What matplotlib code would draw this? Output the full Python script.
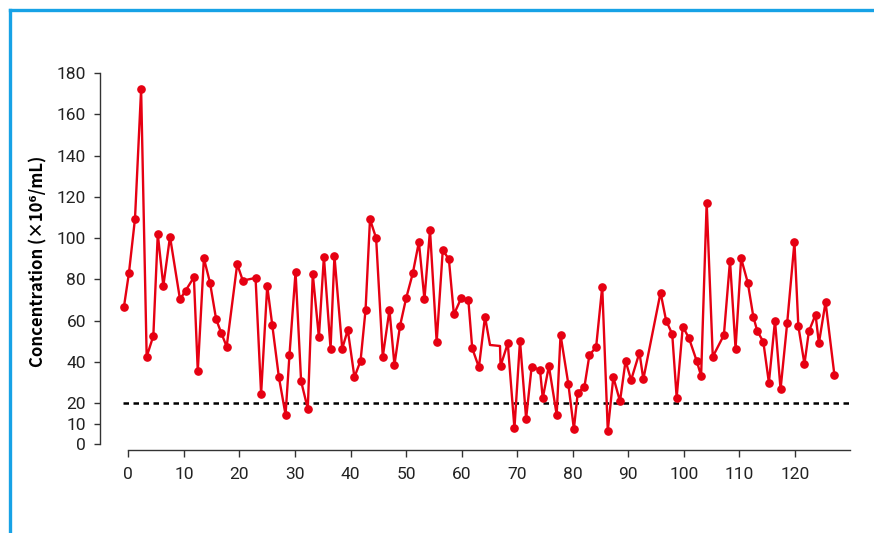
import matplotlib
matplotlib.use('Agg')
import matplotlib.pyplot as plt
from matplotlib.lines import Line2D

plt.rcParams['font.family'] = ['Roboto', 'DejaVu Sans']

# day positions
days = [-0.8, 0.1, 1.2, 2.3, 3.3, 4.5, 5.3, 6.3, 7.5, 9.3, 10.3, 11.8, 12.5, 13.6, 14.7, 15.8, 16.7, 17.7,
        19.6, 20.6, 22.9, 23.9, 25.0, 25.9, 27.1, 28.3, 29.0, 30.1, 31.1, 32.3, 33.2, 34.3, 35.2, 36.4, 37.1, 38.5, 39.5,
        40.7, 41.8, 42.7, 43.5, 44.6, 45.8, 47.0, 47.9, 48.9, 50.0, 51.2, 52.3, 53.3, 54.3, 55.5, 56.6, 57.7, 58.6, 59.9, 61.2,
        61.9, 63.1, 64.2, 65.1, 66.9, 67.0, 68.3, 69.5, 70.5, 71.6, 72.6, 74.1, 74.6, 75.7, 77.1, 77.8, 79.2, 80.2, 80.9, 82.1, 83.0,
        84.2, 85.3, 86.3, 87.3, 88.5, 89.5, 90.5, 92.0, 92.7, 95.8, 96.8, 97.9, 98.7, 99.8, 100.9, 102.3, 103.1, 104.1,
        105.2, 107.2, 108.3, 109.3, 110.3, 111.5, 112.5, 113.2, 114.3, 115.3, 116.4, 117.4, 118.6, 119.9, 120.6, 121.7,
        122.5, 123.7, 124.3, 125.5, 127.1]
conc = [66.5, 82.9, 109.4, 172.2, 42.5, 52.6, 102, 76.8, 100.7, 70.3, 74.5, 81, 35.5, 90.2, 78.4, 60.7, 54.2, 47.4,
        87.4, 79.4, 80.7, 24.5, 76.8, 58, 32.6, 14.4, 43.2, 83.6, 30.6, 17.3, 82.6, 51.9, 91, 46.4, 91.3, 46.4, 55.5,
        32.6, 40.5, 65.2, 109.1, 100, 42.5, 65.2, 38.5, 57.4, 70.8, 82.9, 98.1, 70.3, 103.9, 49.7, 94.2, 89.7, 63, 70.8, 70,
        46.6, 37.4, 61.9, 48.2, 47.7, 38, 49, 7.8, 50.3, 12.5, 37.7, 36.1, 22.4, 38, 14.4, 53.1, 29.3, 7.5, 25.1, 28, 43.4,
        47.1, 76.5, 6.7, 32.6, 20.9, 40.5, 31.2, 44.5, 31.6, 73.6, 60, 53.5, 22.7, 57.1, 51.6, 40.5, 33.2, 117.2,
        42.5, 53, 89, 46.4, 90.2, 78.4, 61.9, 55, 49.7, 29.9, 60, 26.7, 59, 98.1, 57.4, 39, 54.8, 62.9, 49, 69, 33.5]
no_marker = [60, 61]   # two corners drawn without a dot
threshold = 20
yticks = [0, 10, 20, 40, 60, 80, 100, 120, 140, 160, 180]
xticks = list(range(0, 130, 10))

fig = plt.figure(figsize=(8.74, 5.33), dpi=100)
ax = fig.add_axes([100/874, 83/533, 750/874, 377/533])

marks = [i for i in range(len(days)) if i not in no_marker]
ax.plot(days, conc, color='#e60012', lw=1.7, marker='o', markersize=5.2,
        markevery=marks, zorder=3)
ax.plot([-1, 130], [threshold, threshold], color='black', lw=1.8,
        linestyle=(0, (2.2, 1.8)), zorder=2)

ax.set_xlim(-5.1, 129.9)
ax.set_ylim(-2.7, 180)
ax.set_xticks(xticks)
ax.set_yticks(yticks)
ax.spines['top'].set_visible(False)
ax.spines['right'].set_visible(False)
ax.spines['left'].set_bounds(0, 180)
ax.spines['bottom'].set_bounds(0, 129.9)
for s in ['left', 'bottom']:
    ax.spines[s].set_color('#333333')
    ax.spines[s].set_linewidth(1.0)
ax.tick_params(axis='y', direction='out', length=4, width=1, color='#333333',
               labelsize=12.5, pad=6, labelcolor='#222222')
ax.tick_params(axis='x', direction='out', length=5, width=1, color='#333333',
               labelsize=12.5, pad=7, labelcolor='#222222')
ax.set_ylabel('Concentration (×10⁶/mL)', fontsize=12, fontweight='bold', labelpad=7,
              family=['Noto Sans CJK JP', 'DejaVu Sans'])

# blue frame on the left and top
fig.add_artist(Line2D([10/874, 10/874], [0, 1 - 10/533], transform=fig.transFigure,
                      color='#17a2e6', lw=2.4))
fig.add_artist(Line2D([10/874, 1], [1 - 10/533, 1 - 10/533], transform=fig.transFigure,
                      color='#17a2e6', lw=2.4))

fig.savefig('out.png', dpi=100)
